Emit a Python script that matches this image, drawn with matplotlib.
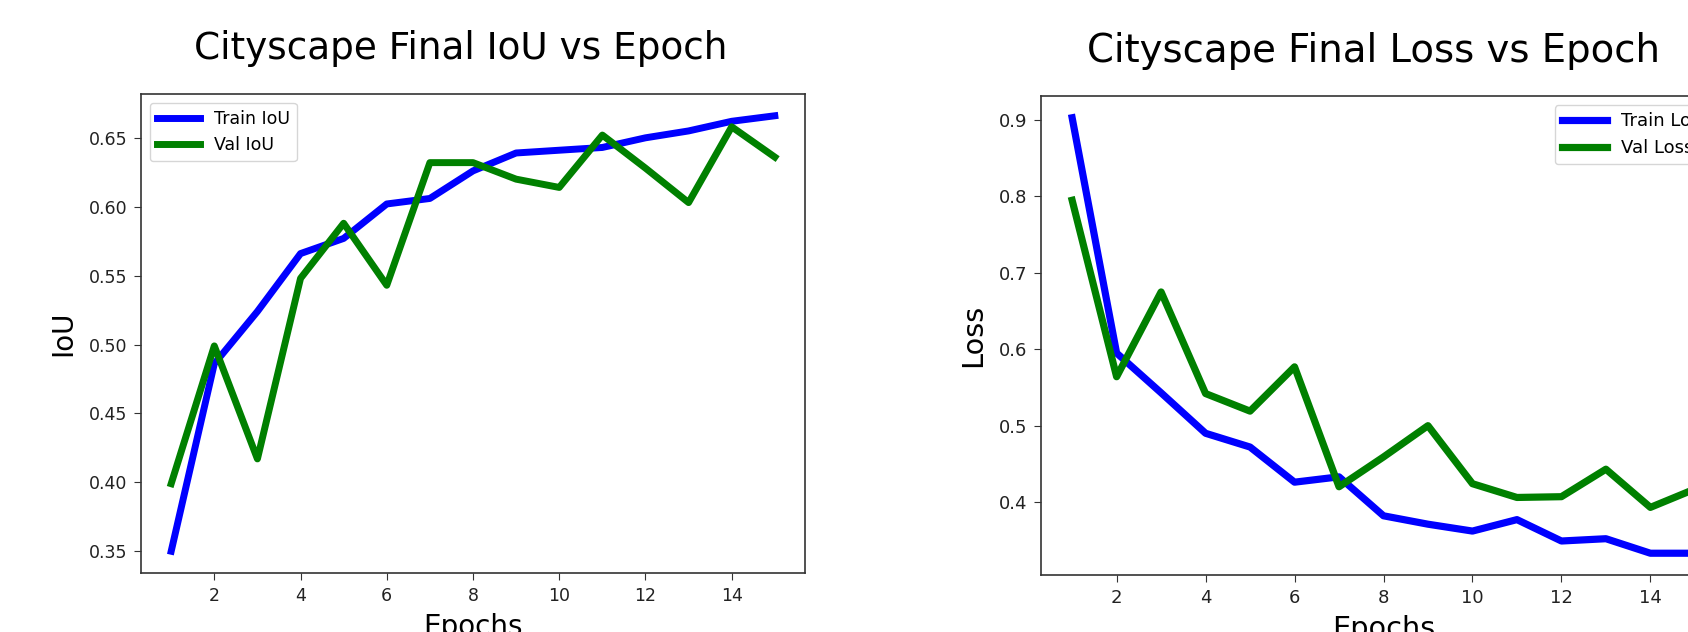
import matplotlib
matplotlib.use("Agg")
import matplotlib.pyplot as plt

epochs = list(range(1, 16))
train_iou = [0.350, 0.486, 0.524, 0.566, 0.577, 0.602, 0.606, 0.626, 0.639, 0.641, 0.643, 0.650, 0.655, 0.662, 0.666]
val_iou = [0.399, 0.499, 0.417, 0.548, 0.588, 0.543, 0.632, 0.632, 0.620, 0.614, 0.652, 0.628, 0.603, 0.658, 0.636]
train_loss = [0.903, 0.595, 0.543, 0.490, 0.472, 0.426, 0.433, 0.382, 0.371, 0.362, 0.377, 0.349, 0.352, 0.333, 0.333]
val_loss = [0.795, 0.564, 0.675, 0.542, 0.519, 0.577, 0.420, 0.459, 0.500, 0.424, 0.406, 0.407, 0.443, 0.393, 0.417]

W, H = 1688, 632
fig = plt.figure(figsize=(W / 100, H / 100), dpi=100)

def px_axes(left, top, right, bottom):
    return fig.add_axes([left / W, (H - bottom) / H, (right - left) / W, (bottom - top) / H])

ax1 = px_axes(141, 94, 805, 573)
ax2 = px_axes(1041, 96, 1726, 575)

for ax, tr, va, title, ylabel, tl, vl, loc, k, tx in [
    (ax1, train_iou, val_iou, "Cityscape Final IoU vs Epoch", "IoU", "Train IoU", "Val IoU", "upper left", 1.0, 0.482),
    (ax2, train_loss, val_loss, "Cityscape Final Loss vs Epoch", "Loss", "Train Loss", "Val Loss", "upper right", 1.035, 0.485),
]:
    tick_fs = 12.5 * k
    ax.plot(epochs, tr, color="blue", lw=5 * k, label=tl)
    ax.plot(epochs, va, color="green", lw=5 * k, label=vl)
    ax.set_title(title, fontsize=26.9 * k, pad=25 if k == 1.0 else 24.5, x=tx)
    ax.set_xlabel("Epochs", fontsize=20 * k, labelpad=6)
    ax.set_ylabel(ylabel, fontsize=20 * k, labelpad=8)
    ax.tick_params(labelsize=tick_fs, length=5, pad=5, color="#333333", labelcolor="#222222")
    for s in ax.spines.values():
        s.set_color("#333333")
        s.set_linewidth(1.2)
    ax.legend(loc=loc, fontsize=tick_fs, handlelength=2.5)

fig.savefig("out.png", dpi=100)
